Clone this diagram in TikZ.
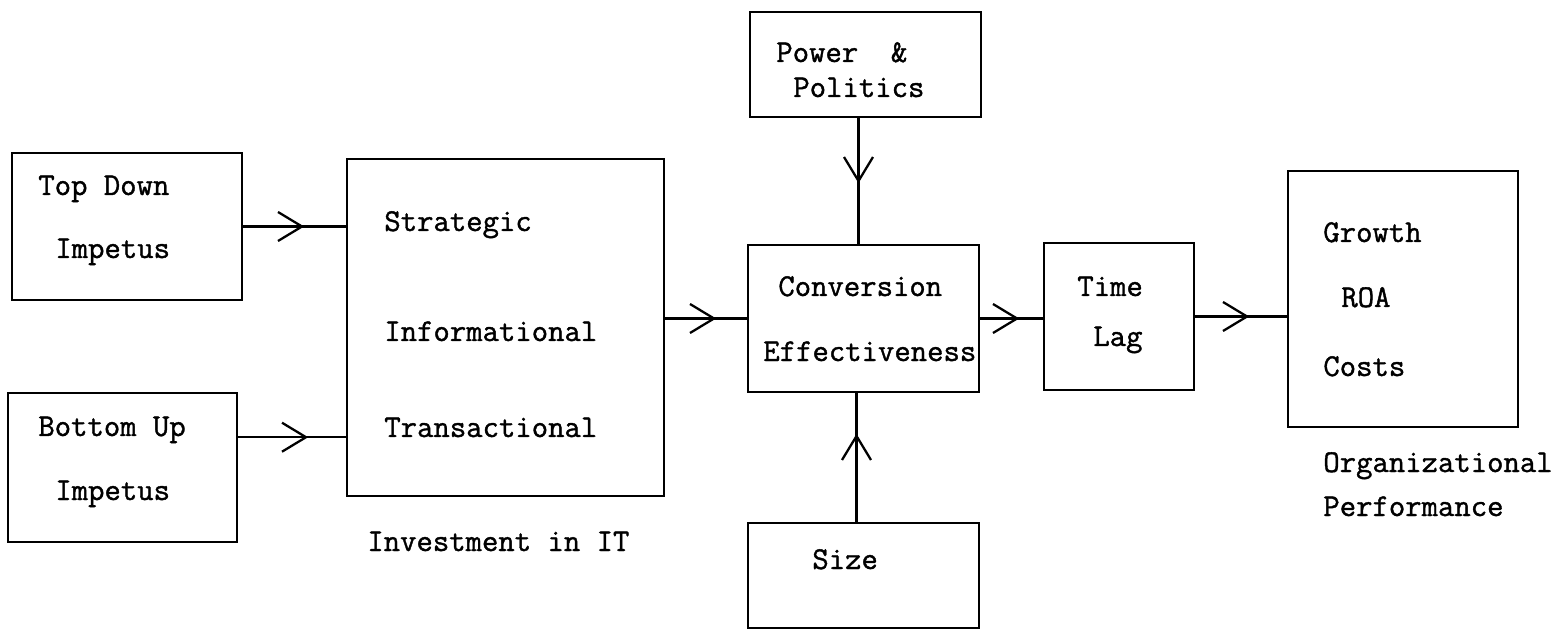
\documentclass[tikz,border=0pt]{standalone}
\usepackage{fontspec}
\newfontfamily\typewriter{Latin Modern Mono}[FakeBold=1.2]
\usetikzlibrary{arrows.meta,decorations.markings,fit,calc}

\begin{document}
\begin{tikzpicture}[x=0.02cm,y=-0.02cm,
  every node/.style={font=\typewriter\fontsize{18.1}{20}\selectfont},
  blk/.style={draw,line width=1.4pt,inner sep=0pt},
  txt/.style={anchor=base west,inner sep=0pt},
  link/.style={line width=1.3pt,postaction={decorate},
    decoration={markings,mark=at position #1 with {\arrow{>}}}},
  >={Straight Barb[length=4.8mm,width=5.8mm]}]
\useasboundingbox (0,0) rectangle (1565,631);
% boxes
\node[blk,fit={(12,153) (242,300)}] (topdown) {};
\node[blk,fit={(8,393) (237,542)}] (bottomup) {};
\node[blk,fit={(347,159) (664,496)}] (invest) {};
\node[blk,fit={(750,12) (981,117)}] (power) {};
\node[blk,fit={(748,245) (979,392)}] (conv) {};
\node[blk,fit={(748,523) (979,628)}] (size) {};
\node[blk,fit={(1044,243) (1194,390)}] (lag) {};
\node[blk,fit={(1288,171) (1518,427)}] (perf) {};
% texts
\node[txt] (topdownA) at (38,195) {Top Down};
\node[txt] (topdownB) at (55,258) {Impetus};
\node[txt] (bottomupA) at (38,436) {Bottom Up};
\node[txt] (bottomupB) at (55,500) {Impetus};
\node[txt] (strat) at (384,231) {Strategic};
\node[txt] (info) at (384,341) {Informational};
\node[txt] (trans) at (384,437) {Transactional};
\node[txt] (investlbl) at (367,551) {Investment in IT};
\node[txt] (powerA) at (776,62) {Power\ \ \&};
\node[txt] (powerB) at (793,97) {Politics};
\node[txt] (convA) at (778,296) {Conversion};
\node[txt] (convB) at (763,361) {Effectiveness};
\node[txt] (sizelbl) at (812,569) {Size};
\node[txt] (lagA) at (1077,296) {Time};
\node[txt] (lagB) at (1093,346) {Lag};
\node[txt] (perfA) at (1323,242) {Growth};
\node[txt] (perfB) at (1341,307) {ROA};
\node[txt] (perfC) at (1323,376) {Costs};
\node[txt] (perflblA) at (1323,472) {Organizational};
\node[txt] (perflblB) at (1323,516) {Performance};
% connectors
\coordinate (pp) at ($(power.south west)!0.47!(power.south east)$);
\coordinate (sz) at ($(size.north west)!0.47!(size.north east)$);
\draw[link=1.22cm] (topdown.east) -- (topdown.east -| invest.west);
\draw[link=1.4cm] ($(bottomup.north east)!0.3!(bottomup.south east)$) coordinate (bu) -- (bu -| invest.west);
\draw[link=1.02cm] (conv.west -| invest.east) -- (conv.west);
\draw[link=1.3cm] (pp) -- (pp |- conv.north);
\draw[link=1.76cm] (sz) -- (sz |- conv.south);
\draw[link=0.78cm] (conv.east) -- (conv.east -| lag.west);
\draw[link=1.08cm] (lag.east) -- (lag.east -| perf.west);
\end{tikzpicture}
\end{document}
